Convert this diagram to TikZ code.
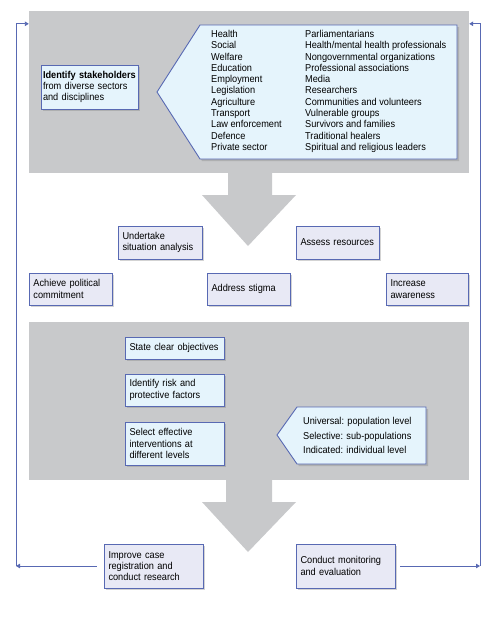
\documentclass[tikz,border=0pt]{standalone}
\usepackage{fontspec}
\setmainfont{Liberation Sans}[FakeStretch=0.92]
\usetikzlibrary{arrows.meta,shadows}

\definecolor{panelgray}{HTML}{C8C9CB}
\definecolor{boxblue}{HTML}{E5F4FC}
\definecolor{boxlav}{HTML}{E8E9F5}
\definecolor{edgeblue}{HTML}{5869B3}

\begin{document}
\begin{tikzpicture}[x=1pt,y=-1pt,
  every node/.style={font=\fontsize{10}{11.3}\selectfont},
  panel/.style={fill=panelgray,draw=none,inner sep=0pt},
  stage/.style={draw=edgeblue,line width=0.9pt,fill=boxlav,inner xsep=4.5pt,inner ysep=0pt,
    align=left,anchor=center,execute at begin node={\hyphenpenalty=10000},
    drop shadow={opacity=0.35,shadow xshift=2pt,shadow yshift=-2pt}},
  lightstage/.style={stage,fill=boxblue},
  link/.style={draw=edgeblue,line width=0.9pt,-{Triangle[length=4pt,width=4.5pt]}},
  bigarrow/.style={fill=panelgray,draw=none}]

\useasboundingbox (0,0) rectangle (499,622);

% grey panels
\node[panel,minimum width=440pt,minimum height=162pt] (toppanel) at (249,92) {};
\node[panel,minimum width=440pt,minimum height=158pt] (lowpanel) at (249,401) {};

% block arrows
\fill[bigarrow] (228,173)--(272,173)--(272,195)--(296,195)--(248,246)--(202,195)--(228,195)--cycle;
\fill[bigarrow] (226,480)--(272,480)--(272,502)--(296,502)--(248,552)--(202,502)--(226,502)--cycle;

% stakeholders
\node[lightstage,inner xsep=2pt,text width=93pt,minimum height=44pt] (stake) at (89.5,87)
  {\textbf{Identify stakeholders}\\from diverse sectors\\and disciplines};

\filldraw[fill=boxblue,draw=edgeblue,line width=0.9pt,drop shadow={opacity=0.35,shadow xshift=2pt,shadow yshift=-2pt}]
  (157,92)--(200,25)--(457,25)--(457,159)--(200,159)--cycle;
\node[anchor=north west,inner sep=0pt,align=left] (sectors) at (211,30)
  {Health\\Social\\Welfare\\Education\\Employment\\Legislation\\Agriculture\\Transport\\Law enforcement\\Defence\\Private sector};
\node[anchor=north west,inner sep=0pt,align=left] (actors) at (305,30)
  {Parliamentarians\\Health/mental health professionals\\Nongovernmental organizations\\Professional associations\\Media\\Researchers\\Communities and volunteers\\Vulnerable groups\\Survivors and families\\Traditional healers\\Spiritual and religious leaders};

% middle row
\node[stage,text width=75pt,minimum height=33pt] (situation) at (160,242.5) {Undertake\\situation analysis};
\node[stage,text width=74pt,minimum height=33pt] (resources) at (337.5,242.5) {Assess resources};
\node[stage,text width=74pt,minimum height=32pt] (political) at (70.5,289) {Achieve political\\commitment};
\node[stage,text width=74pt,minimum height=32pt] (stigma) at (248.5,289) {Address stigma};
\node[stage,text width=73pt,minimum height=32pt] (awareness) at (427,289) {Increase\\awareness};

% planning
\node[lightstage,text width=90pt,minimum height=22pt] (objectives) at (174.5,348) {State clear objectives};
\node[lightstage,text width=90pt,minimum height=32pt] (risk) at (174.5,390) {Identify risk and\\protective factors};
\node[lightstage,text width=90pt,minimum height=43pt] (select) at (174.5,443.5) {Select effective\\interventions at\\different levels};

\filldraw[fill=boxblue,draw=edgeblue,line width=0.9pt,drop shadow={opacity=0.35,shadow xshift=2pt,shadow yshift=-2pt}]
  (277,435)--(297,407)--(426,407)--(426,464)--(297,464)--cycle;
\node[anchor=west,inner sep=0pt,align=left,font=\fontsize{10}{14.8}\selectfont] (levels) at (303,435.5)
  {Universal: population level\\Selective: sub-populations\\Indicated: individual level};

% bottom row
\node[stage,text width=90pt,minimum height=44pt] (improve) at (153.5,566) {Improve case\\registration and\\conduct research};
\node[stage,text width=90pt,minimum height=44pt] (monitor) at (345.5,566) {Conduct monitoring\\and evaluation};

% feedback loops
\coordinate (leftrail) at (16,566);
\coordinate (rightrail) at (480,566);
\draw[link,shorten <=7pt] (improve.west) -- (leftrail);
\draw[link] (leftrail) |- ([yshift=-13pt]toppanel.north west);
\draw[link,shorten <=5pt] (monitor.east) -- (rightrail);
\draw[link] (rightrail) |- ([yshift=-13pt]toppanel.north east);

\end{tikzpicture}
\end{document}
